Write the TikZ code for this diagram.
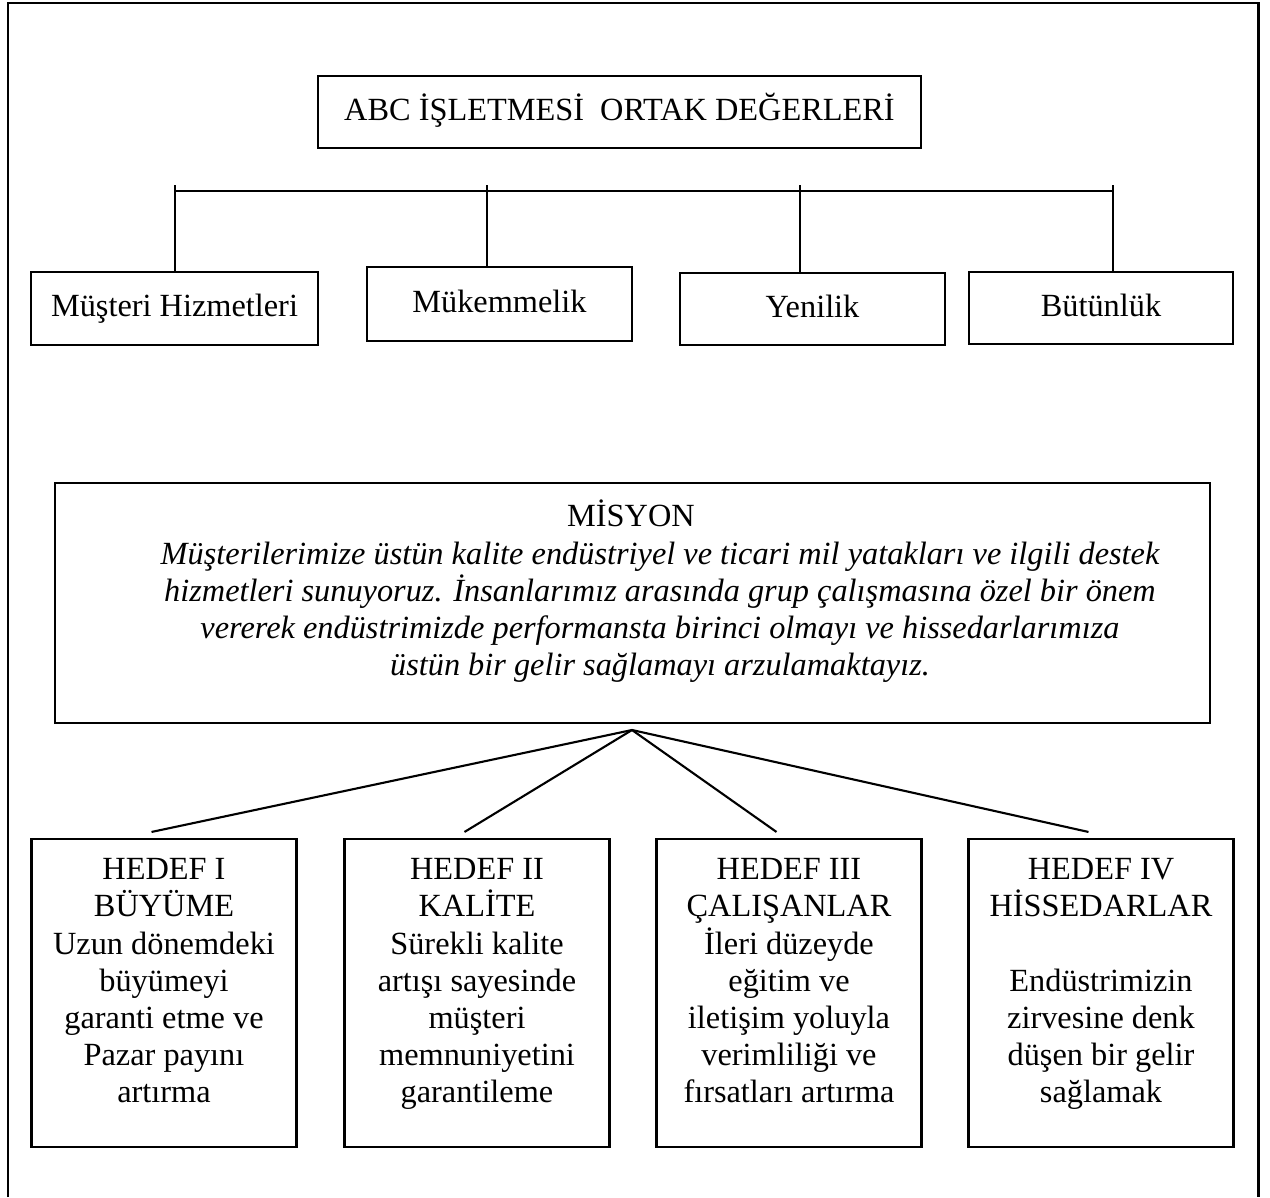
\documentclass[tikz,border=0pt]{standalone}
\usepackage{fontspec}
\setmainfont{Liberation Serif}
\usetikzlibrary{calc}

\begin{document}
\begin{tikzpicture}[
		kutu/.style={draw, line width=0.6pt, inner sep=0pt, text height=0.683em, text depth=0.217em, font=\fontsize{9.2}{10.55}\selectfont},
		yazi/.style={align=center, inner sep=0pt, font=\fontsize{9.2}{10.55}\selectfont},
		hedef/.style={kutu, minimum width=2.65cm, minimum height=3.08cm},
		hat/.style={line width=0.6pt}]
			\useasboundingbox (0,0) rectangle (12.70,-11.97);
			\draw[line width=0.8pt] (0.08,-11.97) -- (0.08,-0.03) -- (12.585,-0.03) -- (12.585,-11.97);
			\node[kutu, minimum width=6.03cm, minimum height=0.72cm] (baslik) at (6.195,-1.12) {ABC İŞLETMESİ~ ORTAK DEĞERLERİ};
			\node[kutu, minimum width=2.87cm, minimum height=0.73cm] (d1) at (1.745,-3.085) {Müşteri Hizmetleri};
			\node[kutu, minimum width=2.65cm, minimum height=0.74cm] (d2) at (4.995,-3.04) {Mükemmelik};
			\node[kutu, minimum width=2.65cm, minimum height=0.72cm] (d3) at (8.125,-3.09) {Yenilik};
			\node[kutu, minimum width=2.64cm, minimum height=0.72cm] (d4) at (11.01,-3.08) {Bütünlük};
			\coordinate (b1) at (1.75,-1.91);
			\coordinate (b2) at (4.87,-1.91);
			\coordinate (b3) at (8.00,-1.91);
			\coordinate (b4) at (11.13,-1.91);
			\draw[hat] (b1) -- (b4);
			\foreach \i in {1,...,4}
				\draw[hat] ($(b\i)+(0,0.06)$) -- (b\i |- d\i.north);
			\node[kutu, minimum width=11.55cm, minimum height=2.40cm] (misyon) at (6.325,-6.03) {};
			\node[yazi, anchor=base] (misyonbaslik) at (6.31,-5.26) {MİSYON};
			\node[yazi, anchor=north, font=\fontsize{9.2}{10.55}\selectfont\itshape] (misyonmetin) at (6.60,-5.41) {Müşterilerimize üstün kalite endüstriyel ve ticari mil yatakları ve ilgili destek\\hizmetleri sunuyoruz. İnsanlarımız arasında grup çalışmasına özel bir önem\\vererek endüstrimizde performansta birinci olmayı ve hissedarlarımıza\\üstün bir gelir sağlamayı arzulamaktayız.};
			\coordinate (tepe) at (6.32,-7.30);
			\node[hedef] (h1) at (1.64,-9.93) {};
			\node[hedef] (h2) at (4.77,-9.93) {};
			\node[hedef] (h3) at (7.89,-9.93) {};
			\node[hedef] (h4) at (11.01,-9.93) {};
			\foreach \i in {1,...,4}
				\draw[hat] (tepe) -- ($(h\i.north)+(-0.125,0.06)$);
			\node[yazi, anchor=north] (h1yazi) at ($(h1.north)+(0,-0.20)$) {HEDEF I\\BÜYÜME\\Uzun dönemdeki\\büyümeyi\\garanti etme ve\\Pazar payını\\artırma};
			\node[yazi, anchor=north] (h2yazi) at ($(h2.north)+(0,-0.20)$) {HEDEF II\\KALİTE\\Sürekli kalite\\artışı sayesinde\\müşteri\\memnuniyetini\\garantileme};
			\node[yazi, anchor=north] (h3yazi) at ($(h3.north)+(0,-0.20)$) {HEDEF III\\ÇALIŞANLAR\\İleri düzeyde\\eğitim ve\\iletişim yoluyla\\verimliliği ve\\fırsatları artırma};
			\node[yazi, anchor=north] (h4yazi) at ($(h4.north)+(0,-0.20)$) {HEDEF IV\\HİSSEDARLAR\\[10.55pt]Endüstrimizin\\zirvesine denk\\düşen bir gelir\\sağlamak};
\end{tikzpicture}
\end{document}
